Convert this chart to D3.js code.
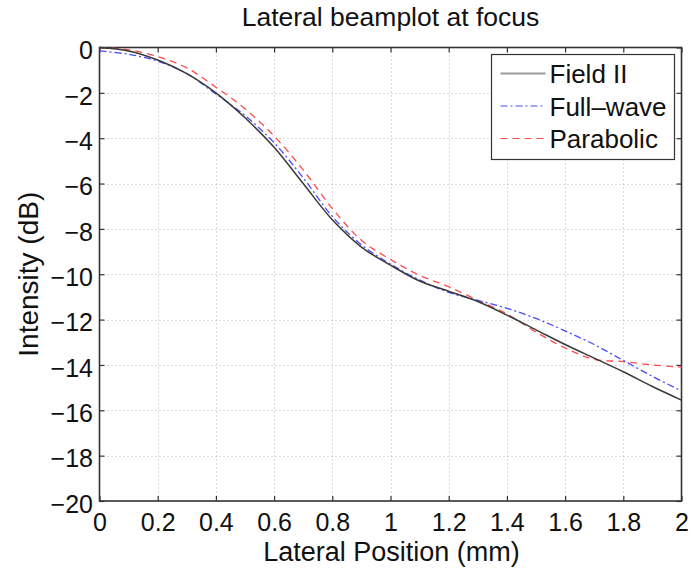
<!DOCTYPE html>
<html>
<head>
<meta charset="utf-8">
<script src="https://cdn.jsdelivr.net/npm/d3@7"></script>
<style>
  html, body { margin: 0; padding: 0; background: #fff; }
  svg { display: block; font-family: "Liberation Sans", Arial, Helvetica, sans-serif; }
</style>
</head>
<body>
<svg id="chart" width="691" height="568"></svg>
<script>
// Lateral position (mm)
const positions = [0, 0.1, 0.2, 0.3, 0.4, 0.5, 0.6, 0.7, 0.8, 0.9, 1.0,
                   1.1, 1.2, 1.3, 1.4, 1.5, 1.6, 1.7, 1.8, 1.9, 2.0];
// Intensity (dB) for each simulation method
const fieldII   = [0, -0.15, -0.55, -1.15, -2.0, -3.1, -4.4, -6.0, -7.6, -8.8, -9.6,
                   -10.3, -10.75, -11.2, -11.8, -12.45, -13.1, -13.7, -14.3, -14.95, -15.55];
const fullWave  = [-0.15, -0.3, -0.6, -1.15, -2.05, -3.0, -4.2, -5.75, -7.45, -8.7, -9.55,
                   -10.25, -10.8, -11.15, -11.5, -11.95, -12.5, -13.1, -13.8, -14.5, -15.15];
const parabolic = [0, -0.1, -0.4, -0.9, -1.75, -2.7, -3.9, -5.4, -7.1, -8.5, -9.35,
                   -10.05, -10.55, -11.15, -11.75, -12.55, -13.25, -13.75, -13.85, -14.0, -14.1];

const seriesNames = ["Field II", "Full\u2013wave", "Parabolic"];
const xTicks = [0, 0.2, 0.4, 0.6, 0.8, 1, 1.2, 1.4, 1.6, 1.8, 2];
const yTicks = [0, -2, -4, -6, -8, -10, -12, -14, -16, -18, -20];

const title = "Lateral beamplot at focus";
const xLabel = "Lateral Position (mm)";
const yLabel = "Intensity (dB)";

const svg = d3.select("#chart");
const plot = { left: 99.5, right: 681.5, top: 47.5, bottom: 501 };
const tickFont = 25;

const x = d3.scaleLinear().domain([0, 2]).range([plot.left, plot.right]);
const y = d3.scaleLinear().domain([-20, 0]).range([plot.bottom, plot.top]);

// dotted grid
const grid = svg.append("g").attr("stroke", "#b8b8b8").attr("stroke-width", 1)
  .attr("stroke-dasharray", "1,3");
grid.selectAll(".gx").data(xTicks.slice(1, -1)).join("line")
  .attr("x1", d => Math.round(x(d)) + 0.5).attr("x2", d => Math.round(x(d)) + 0.5)
  .attr("y1", plot.top).attr("y2", plot.bottom);
grid.selectAll(".gy").data(yTicks.slice(1, -1)).join("line")
  .attr("y1", d => Math.round(y(d)) + 0.5).attr("y2", d => Math.round(y(d)) + 0.5)
  .attr("x1", plot.left).attr("x2", plot.right);

// axes: ticks pointing inward on all four sides
const tickLen = 5;
const axisColor = "#333";
const xAxisBottom = d3.axisBottom(x).tickValues(xTicks).tickSizeInner(-tickLen).tickSizeOuter(0)
  .tickPadding(12).tickFormat(d3.format("~g"));
const xAxisTop = d3.axisTop(x).tickValues(xTicks).tickSizeInner(-tickLen).tickSizeOuter(0)
  .tickFormat("");
const yAxisLeft = d3.axisLeft(y).tickValues(yTicks).tickSizeInner(-tickLen).tickSizeOuter(0)
  .tickPadding(6.5).tickFormat(d => d === 0 ? "0" : "\u2212" + Math.abs(d));
const yAxisRight = d3.axisRight(y).tickValues(yTicks).tickSizeInner(-tickLen).tickSizeOuter(0)
  .tickFormat("");

function styleAxis(g) {
  g.select(".domain").remove();
  g.selectAll(".tick line").attr("stroke", axisColor).attr("stroke-width", 1.2);
  g.selectAll(".tick text").attr("fill", "#111").style("font-size", tickFont + "px")
    .style("font-family", "'Liberation Sans', Arial, sans-serif");
}
svg.append("g").attr("transform", `translate(0,${plot.bottom})`).call(xAxisBottom).call(styleAxis);
svg.append("g").attr("transform", `translate(0,${plot.top})`).call(xAxisTop).call(styleAxis);
svg.append("g").attr("transform", `translate(${plot.left},0)`).call(yAxisLeft).call(styleAxis)
  .selectAll(".tick text").attr("dy", "0.45em");
svg.append("g").attr("transform", `translate(${plot.right},0)`).call(yAxisRight).call(styleAxis);

// axes box
svg.append("rect")
  .attr("x", plot.left).attr("y", plot.top)
  .attr("width", plot.right - plot.left).attr("height", plot.bottom - plot.top)
  .attr("fill", "none").attr("stroke", axisColor).attr("stroke-width", 1.6);

// curves
const line = d3.line().x(d => x(d[0])).y(d => y(d[1])).curve(d3.curveCatmullRom.alpha(0.5));
const series = [
  { name: seriesNames[0], values: fieldII,   color: "#3a3a3a", dash: null,      width: 1.5 },
  { name: seriesNames[1], values: fullWave,  color: "#4a4aff", dash: "7,3,2,3", width: 1.3 },
  { name: seriesNames[2], values: parabolic, color: "#ff4a4a", dash: "7,5",     width: 1.3 }
];
const curves = svg.append("g");
series.slice().reverse().forEach(s => {
  curves.append("path")
    .datum(positions.map((p, i) => [p, s.values[i]]))
    .attr("d", line)
    .attr("fill", "none")
    .attr("stroke", s.color)
    .attr("stroke-width", s.width)
    .attr("stroke-dasharray", s.dash);
});

// legend
const legend = svg.append("g").attr("transform", "translate(491.5,54.5)");
legend.append("rect").attr("width", 183).attr("height", 105)
  .attr("fill", "#fff").attr("stroke", axisColor).attr("stroke-width", 1.2);
series.forEach((s, i) => {
  const cy = 19 + i * 32.5;
  const swatchColor = i === 0 ? "#999" : s.color;
  legend.append("line").attr("x1", 9).attr("x2", 54).attr("y1", cy).attr("y2", cy)
    .attr("stroke", swatchColor).attr("stroke-width", i === 0 ? 2 : 1.2)
    .attr("stroke-dasharray", s.dash);
  legend.append("text").attr("x", 58).attr("y", cy).attr("dy", "0.38em")
    .style("font-size", "26px").attr("fill", "#111").text(s.name);
});

// titles
svg.append("text").attr("x", (plot.left + plot.right) / 2).attr("y", 26)
  .attr("text-anchor", "middle").style("font-size", "26.5px").attr("fill", "#111").text(title);
svg.append("text").attr("x", (plot.left + plot.right) / 2 + 1).attr("y", 561)
  .attr("text-anchor", "middle").style("font-size", "27px").attr("fill", "#111").text(xLabel);
svg.append("text").attr("transform", `translate(38,${(plot.top + plot.bottom) / 2}) rotate(-90)`)
  .attr("text-anchor", "middle").style("font-size", "28px").attr("fill", "#111").text(yLabel);
</script>
</body>
</html>
